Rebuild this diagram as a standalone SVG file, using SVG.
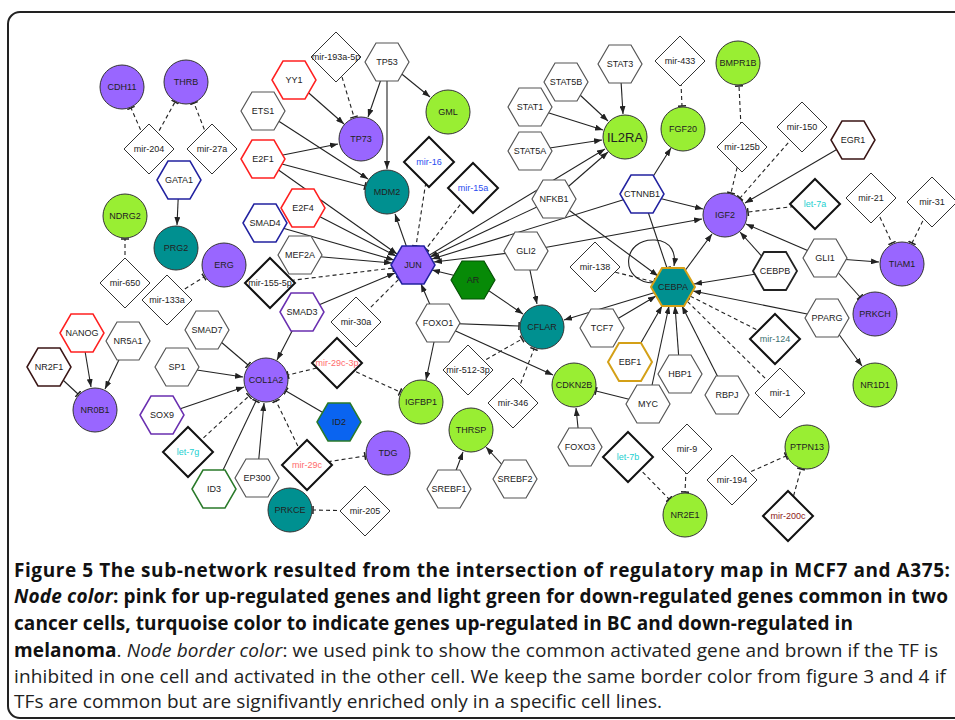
<svg xmlns="http://www.w3.org/2000/svg" xmlns:xlink="http://www.w3.org/1999/xlink" width="955" height="720" viewBox="0 0 955 720">
<style>
.c{stroke:#333;stroke-width:1}
.pu{fill:#9966ff}.gr{fill:#99ee33}.tl{fill:#009090}
.h{fill:#fff;stroke:#555;stroke-width:1.2}
.red{stroke:#ff2020;stroke-width:1.5}.blu{stroke:#2222a0;stroke-width:1.5}.pur{stroke:#6a2fb0;stroke-width:1.5}
.brn{stroke:#3a1515;stroke-width:1.5}.grn{stroke:#2a7a2a;stroke-width:1.5}.gold{stroke:#d4a017;stroke-width:2}.blk{stroke:#222;stroke-width:1.8}
.dm{fill:#fff;stroke:#333;stroke-width:1}
.db{fill:#fff;stroke:#111;stroke-width:2}
text{font-family:"Liberation Sans",Arial,sans-serif;font-size:9px;text-anchor:middle;fill:#222}
.tb{fill:#2a4cf0}.tc{fill:#22d0d0}.tp{fill:#ff6b6b}.tt{fill:#3a7070}.tr{fill:#8b2020}
.e{stroke:#222;stroke-width:1.1;fill:none}
.d{stroke:#222;stroke-width:1.1;stroke-dasharray:4 3;fill:none}
.a{marker-end:url(#arr)}
.t{marker-end:url(#tb)}
.cap{font-family:"Open Sans","Liberation Sans",sans-serif;font-size:19px;text-anchor:start;fill:#222}
.bd{font-weight:bold;fill:#111}
</style>
<defs>
<marker id="arr" viewBox="0 0 8 6" refX="8" refY="3" markerWidth="8" markerHeight="6" markerUnits="userSpaceOnUse" orient="auto"><path d="M0,0 L8,3 L0,6 z" fill="#222"/></marker>
<marker id="tb" viewBox="0 0 3 8" refX="2" refY="4" markerWidth="3" markerHeight="8" markerUnits="userSpaceOnUse" orient="auto"><path d="M2,0 V8" stroke="#222" stroke-width="1.5"/></marker>
<polygon id="hx" points="-22,0 -11,-19 11,-19 22,0 11,19 -11,19"/>
<polygon id="dmd" points="0,-25 25,0 0,25 -25,0"/>
</defs>
<rect x="8" y="12" width="980" height="706" rx="12" fill="none" stroke="#222" stroke-width="2"/>
<g id="edges">
<line x1="179" y1="180" x2="177" y2="225" class="e a"/>
<line x1="294" y1="80" x2="344" y2="124" class="e a"/>
<line x1="263" y1="111" x2="368" y2="179" class="e a"/>
<line x1="263" y1="159" x2="338" y2="144" class="e a"/>
<line x1="263" y1="159" x2="397" y2="254" class="e a"/>
<line x1="303" y1="208" x2="396" y2="256" class="e a"/>
<line x1="265" y1="223" x2="394" y2="260" class="e a"/>
<line x1="300" y1="255" x2="392" y2="263" class="e a"/>
<line x1="302" y1="312" x2="395" y2="273" class="e a"/>
<line x1="438" y1="323" x2="421" y2="284" class="e a"/>
<line x1="473" y1="280" x2="432" y2="270" class="e a"/>
<line x1="413" y1="265" x2="395" y2="214" class="e a"/>
<line x1="387" y1="62" x2="368" y2="117" class="e a"/>
<line x1="387" y1="62" x2="387" y2="169" class="e a"/>
<line x1="387" y1="62" x2="430" y2="97" class="e a"/>
<line x1="554" y1="199" x2="430" y2="257" class="e a"/>
<line x1="413" y1="265" x2="605" y2="149" class="e a"/>
<line x1="554" y1="199" x2="608" y2="152" class="e a"/>
<line x1="642" y1="194" x2="432" y2="259" class="e a"/>
<line x1="526" y1="251" x2="434" y2="262" class="e a"/>
<line x1="526" y1="251" x2="702" y2="219" class="e a"/>
<line x1="554" y1="199" x2="658" y2="276" class="e a"/>
<line x1="620" y1="64" x2="623" y2="114" class="e a"/>
<line x1="566" y1="82" x2="608" y2="121" class="e a"/>
<line x1="530" y1="107" x2="603" y2="130" class="e a"/>
<line x1="530" y1="151" x2="602" y2="140" class="e a"/>
<line x1="642" y1="194" x2="671" y2="148" class="e a"/>
<line x1="642" y1="194" x2="703" y2="209" class="e a"/>
<line x1="853" y1="140" x2="745" y2="203" class="e a"/>
<line x1="673" y1="287" x2="712" y2="234" class="e a"/>
<line x1="775" y1="271" x2="740" y2="232" class="e a"/>
<line x1="825" y1="258" x2="746" y2="224" class="e a"/>
<line x1="825" y1="258" x2="879" y2="262" class="e a"/>
<line x1="775" y1="271" x2="694" y2="284" class="e a"/>
<line x1="827" y1="318" x2="693" y2="291" class="e a"/>
<line x1="827" y1="318" x2="862" y2="366" class="e a"/>
<line x1="727" y1="395" x2="682" y2="306" class="e a"/>
<line x1="680" y1="374" x2="675" y2="306" class="e a"/>
<line x1="648" y1="404" x2="669" y2="306" class="e a"/>
<line x1="630" y1="362" x2="662" y2="306" class="e a"/>
<line x1="602" y1="328" x2="656" y2="296" class="e a"/>
<line x1="673" y1="287" x2="564" y2="320" class="e a"/>
<line x1="526" y1="251" x2="537" y2="304" class="e a"/>
<line x1="473" y1="280" x2="523" y2="314" class="e a"/>
<line x1="438" y1="323" x2="426" y2="380" class="e a"/>
<line x1="438" y1="323" x2="553" y2="375" class="e a"/>
<line x1="580" y1="447" x2="576" y2="408" class="e a"/>
<line x1="449" y1="489" x2="463" y2="452" class="e a"/>
<line x1="515" y1="479" x2="486" y2="447" class="e a"/>
<line x1="302" y1="312" x2="277" y2="360" class="e a"/>
<line x1="177" y1="367" x2="243" y2="377" class="e a"/>
<line x1="162" y1="415" x2="244" y2="387" class="e a"/>
<line x1="257" y1="478" x2="264" y2="403" class="e a"/>
<line x1="82" y1="333" x2="91" y2="387" class="e a"/>
<line x1="128" y1="341" x2="105" y2="389" class="e a"/>
<path d="M654,283 C618,282 622,238 655,240 C672,241 676,254 674,266" class="e a"/>
<line x1="263" y1="159" x2="365" y2="186" class="e t"/>
<line x1="642" y1="194" x2="667" y2="268" class="e t"/>
<line x1="825" y1="258" x2="860" y2="297" class="e t"/>
<line x1="438" y1="323" x2="519" y2="326" class="e t"/>
<line x1="648" y1="404" x2="596" y2="391" class="e t"/>
<line x1="339" y1="422" x2="286" y2="391" class="e t"/>
<line x1="207" y1="330" x2="248" y2="365" class="e t"/>
<line x1="214" y1="489" x2="256" y2="401" class="e t"/>
<line x1="49" y1="367" x2="78" y2="394" class="e t"/>
<line x1="149" y1="149" x2="131" y2="108" class="d t"/>
<line x1="149" y1="149" x2="175" y2="102" class="d t"/>
<line x1="212" y1="149" x2="194" y2="103" class="d t"/>
<line x1="125" y1="283" x2="125" y2="239" class="d t"/>
<line x1="167" y1="300" x2="204" y2="277" class="d t"/>
<line x1="270" y1="283" x2="393" y2="268" class="d t"/>
<line x1="356" y1="322" x2="399" y2="279" class="d t"/>
<line x1="429" y1="162" x2="416" y2="246" class="d t"/>
<line x1="473" y1="188" x2="426" y2="249" class="d t"/>
<line x1="336" y1="57" x2="354" y2="117" class="d t"/>
<line x1="680" y1="61" x2="682" y2="106" class="d t"/>
<line x1="742" y1="147" x2="739" y2="86" class="d t"/>
<line x1="742" y1="147" x2="731" y2="193" class="d t"/>
<line x1="802" y1="127" x2="740" y2="198" class="d t"/>
<line x1="815" y1="204" x2="748" y2="212" class="d t"/>
<line x1="871" y1="198" x2="892" y2="243" class="d t"/>
<line x1="932" y1="202" x2="912" y2="243" class="d t"/>
<line x1="775" y1="339" x2="690" y2="296" class="d t"/>
<line x1="780" y1="393" x2="687" y2="301" class="d t"/>
<line x1="595" y1="267" x2="654" y2="282" class="d t"/>
<line x1="468" y1="370" x2="522" y2="339" class="d t"/>
<line x1="513" y1="403" x2="534" y2="349" class="d t"/>
<line x1="687" y1="449" x2="685" y2="492" class="d t"/>
<line x1="628" y1="457" x2="669" y2="499" class="d t"/>
<line x1="732" y1="480" x2="786" y2="456" class="d t"/>
<line x1="788" y1="516" x2="801" y2="469" class="d t"/>
<line x1="365" y1="511" x2="313" y2="510" class="d t"/>
<line x1="307" y1="465" x2="365" y2="456" class="d t"/>
<line x1="307" y1="465" x2="276" y2="401" class="d t"/>
<line x1="337" y1="363" x2="288" y2="375" class="d t"/>
<line x1="337" y1="363" x2="400" y2="392" class="d t"/>
<line x1="188" y1="452" x2="249" y2="396" class="d t"/>
</g>
<!-- circles -->
<g id="CDH11"><circle cx="122" cy="87" r="22" class="c pu"/><text x="122" y="90">CDH11</text></g>
<g id="THRB"><circle cx="186" cy="82" r="22" class="c pu"/><text x="186" y="85">THRB</text></g>
<g id="NDRG2"><circle cx="125" cy="216" r="22" class="c gr"/><text x="125" y="219">NDRG2</text></g>
<g id="PRG2"><circle cx="176" cy="248" r="22" class="c tl"/><text x="176" y="251">PRG2</text></g>
<g id="ERG"><circle cx="224" cy="265" r="22" class="c pu"/><text x="224" y="268">ERG</text></g>
<g id="NR0B1"><circle cx="95" cy="410" r="22" class="c pu"/><text x="95" y="413">NR0B1</text></g>
<g id="COL1A2"><circle cx="266" cy="380" r="22" class="c pu"/><text x="266" y="383">COL1A2</text></g>
<g id="PRKCE"><circle cx="290" cy="510" r="22" class="c tl"/><text x="290" y="513">PRKCE</text></g>
<g id="TDG"><circle cx="388" cy="453" r="22" class="c pu"/><text x="388" y="456">TDG</text></g>
<g id="IGFBP1"><circle cx="421" cy="402" r="22" class="c gr"/><text x="421" y="405">IGFBP1</text></g>
<g id="THRSP"><circle cx="471" cy="430" r="22" class="c gr"/><text x="471" y="433">THRSP</text></g>
<g id="CFLAR"><circle cx="542" cy="327" r="22" class="c tl"/><text x="542" y="330">CFLAR</text></g>
<g id="CDKN2B"><circle cx="574" cy="385" r="22" class="c gr"/><text x="574" y="388">CDKN2B</text></g>
<g id="TP73"><circle cx="361" cy="139" r="22" class="c pu"/><text x="361" y="142">TP73</text></g>
<g id="MDM2"><circle cx="387" cy="192" r="22" class="c tl"/><text x="387" y="195">MDM2</text></g>
<g id="GML"><circle cx="448" cy="112" r="22" class="c gr"/><text x="448" y="115">GML</text></g>
<g id="IL2RA"><circle cx="625" cy="137" r="22" class="c gr"/><text x="625" y="142" style="font-size:13px">IL2RA</text></g>
<g id="FGF20"><circle cx="683" cy="129" r="22" class="c gr"/><text x="683" y="132">FGF20</text></g>
<g id="BMPR1B"><circle cx="738" cy="63" r="22" class="c gr"/><text x="738" y="66">BMPR1B</text></g>
<g id="IGF2"><circle cx="725" cy="215" r="22" class="c pu"/><text x="725" y="218">IGF2</text></g>
<g id="TIAM1"><circle cx="902" cy="264" r="22" class="c pu"/><text x="902" y="267">TIAM1</text></g>
<g id="PRKCH"><circle cx="875" cy="314" r="22" class="c pu"/><text x="875" y="317">PRKCH</text></g>
<g id="NR1D1"><circle cx="875" cy="385" r="22" class="c gr"/><text x="875" y="388">NR1D1</text></g>
<g id="PTPN13"><circle cx="807" cy="447" r="22" class="c gr"/><text x="807" y="450">PTPN13</text></g>
<g id="NR2E1"><circle cx="685" cy="515" r="22" class="c gr"/><text x="685" y="518">NR2E1</text></g>
<!-- hexagons -->
<g id="YY1"><use href="#hx" x="294" y="80" class="h red"/><text x="294" y="83">YY1</text></g>
<g id="ETS1"><use href="#hx" x="263" y="111" class="h"/><text x="263" y="114">ETS1</text></g>
<g id="E2F1"><use href="#hx" x="263" y="159" class="h red"/><text x="263" y="162">E2F1</text></g>
<g id="E2F4"><use href="#hx" x="303" y="208" class="h red"/><text x="303" y="211">E2F4</text></g>
<g id="SMAD4"><use href="#hx" x="265" y="223" class="h blu"/><text x="265" y="226">SMAD4</text></g>
<g id="MEF2A"><use href="#hx" x="300" y="255" class="h"/><text x="300" y="258">MEF2A</text></g>
<g id="GATA1"><use href="#hx" x="179" y="180" class="h blu"/><text x="179" y="183">GATA1</text></g>
<g id="TP53"><use href="#hx" x="387" y="62" class="h"/><text x="387" y="65">TP53</text></g>
<g id="STAT3"><use href="#hx" x="620" y="64" class="h"/><text x="620" y="67">STAT3</text></g>
<g id="STAT5B"><use href="#hx" x="566" y="82" class="h"/><text x="566" y="85">STAT5B</text></g>
<g id="STAT1"><use href="#hx" x="530" y="107" class="h"/><text x="530" y="110">STAT1</text></g>
<g id="STAT5A"><use href="#hx" x="530" y="151" class="h"/><text x="530" y="154">STAT5A</text></g>
<g id="NFKB1"><use href="#hx" x="554" y="199" class="h"/><text x="554" y="202">NFKB1</text></g>
<g id="CTNNB1"><use href="#hx" x="642" y="194" class="h blu"/><text x="642" y="197">CTNNB1</text></g>
<g id="EGR1"><use href="#hx" x="853" y="140" class="h brn"/><text x="853" y="143">EGR1</text></g>
<g id="JUN"><use href="#hx" x="413" y="265" class="h blu" style="fill:#9966ff"/><text x="413" y="268">JUN</text></g>
<g id="GLI2"><use href="#hx" x="526" y="251" class="h"/><text x="526" y="254">GLI2</text></g>
<g id="AR"><use href="#hx" x="473" y="280" class="h" style="fill:#078a07;stroke:#055005"/><text x="473" y="283">AR</text></g>
<g id="FOXO1"><use href="#hx" x="438" y="323" class="h"/><text x="438" y="326">FOXO1</text></g>
<g id="TCF7"><use href="#hx" x="602" y="328" class="h"/><text x="602" y="331">TCF7</text></g>
<g id="CEBPA"><use href="#hx" x="673" y="287" class="h gold" style="fill:#009090"/><text x="673" y="290">CEBPA</text></g>
<g id="CEBPB"><use href="#hx" x="775" y="271" class="h blk"/><text x="775" y="274">CEBPB</text></g>
<g id="GLI1"><use href="#hx" x="825" y="258" class="h"/><text x="825" y="261">GLI1</text></g>
<g id="PPARG"><use href="#hx" x="827" y="318" class="h"/><text x="827" y="321">PPARG</text></g>
<g id="EBF1"><use href="#hx" x="630" y="362" class="h gold"/><text x="630" y="365">EBF1</text></g>
<g id="HBP1"><use href="#hx" x="680" y="374" class="h"/><text x="680" y="377">HBP1</text></g>
<g id="RBPJ"><use href="#hx" x="727" y="395" class="h"/><text x="727" y="398">RBPJ</text></g>
<g id="MYC"><use href="#hx" x="648" y="404" class="h"/><text x="648" y="407">MYC</text></g>
<g id="FOXO3"><use href="#hx" x="580" y="447" class="h"/><text x="580" y="450">FOXO3</text></g>
<g id="SREBF1"><use href="#hx" x="449" y="489" class="h"/><text x="449" y="492">SREBF1</text></g>
<g id="SREBF2"><use href="#hx" x="515" y="479" class="h"/><text x="515" y="482">SREBF2</text></g>
<g id="SMAD3"><use href="#hx" x="302" y="312" class="h pur"/><text x="302" y="315">SMAD3</text></g>
<g id="SMAD7"><use href="#hx" x="207" y="330" class="h"/><text x="207" y="333">SMAD7</text></g>
<g id="SP1"><use href="#hx" x="177" y="367" class="h"/><text x="177" y="370">SP1</text></g>
<g id="SOX9"><use href="#hx" x="162" y="415" class="h pur"/><text x="162" y="418">SOX9</text></g>
<g id="ID3"><use href="#hx" x="214" y="489" class="h grn"/><text x="214" y="492">ID3</text></g>
<g id="EP300"><use href="#hx" x="257" y="478" class="h"/><text x="257" y="481">EP300</text></g>
<g id="ID2"><use href="#hx" x="339" y="422" class="h grn" style="fill:#0a64f0"/><text x="339" y="425">ID2</text></g>
<g id="NANOG"><use href="#hx" x="82" y="333" class="h red"/><text x="82" y="336">NANOG</text></g>
<g id="NR5A1"><use href="#hx" x="128" y="341" class="h"/><text x="128" y="344">NR5A1</text></g>
<g id="NR2F1"><use href="#hx" x="49" y="367" class="h brn"/><text x="49" y="370">NR2F1</text></g>
<!-- diamonds -->
<g id="mir-204"><use href="#dmd" x="149" y="149" class="dm"/><text x="149" y="152">mir-204</text></g>
<g id="mir-27a"><use href="#dmd" x="212" y="149" class="dm"/><text x="212" y="152">mir-27a</text></g>
<g id="mir-193a-5p"><use href="#dmd" x="336" y="57" class="dm"/><text x="336" y="60">mir-193a-5p</text></g>
<g id="mir-16"><use href="#dmd" x="429" y="162" class="db"/><text x="429" y="165" class="tb">mir-16</text></g>
<g id="mir-15a"><use href="#dmd" x="473" y="188" class="db"/><text x="473" y="191" class="tb">mir-15a</text></g>
<g id="mir-433"><use href="#dmd" x="680" y="61" class="dm"/><text x="680" y="64">mir-433</text></g>
<g id="mir-125b"><use href="#dmd" x="742" y="147" class="dm"/><text x="742" y="150">mir-125b</text></g>
<g id="mir-150"><use href="#dmd" x="802" y="127" class="dm"/><text x="802" y="130">mir-150</text></g>
<g id="let-7a"><use href="#dmd" x="815" y="204" class="db"/><text x="815" y="207" class="tc">let-7a</text></g>
<g id="mir-21"><use href="#dmd" x="871" y="198" class="dm"/><text x="871" y="201">mir-21</text></g>
<g id="mir-31"><use href="#dmd" x="932" y="202" class="dm"/><text x="932" y="205">mir-31</text></g>
<g id="mir-650"><use href="#dmd" x="125" y="283" class="dm"/><text x="125" y="286">mir-650</text></g>
<g id="mir-133a"><use href="#dmd" x="167" y="300" class="dm"/><text x="167" y="303">mir-133a</text></g>
<g id="mir-155-5p"><use href="#dmd" x="270" y="283" class="db"/><text x="270" y="286">mir-155-5p</text></g>
<g id="mir-30a"><use href="#dmd" x="356" y="322" class="dm"/><text x="356" y="325">mir-30a</text></g>
<g id="mir-29c-3p"><use href="#dmd" x="337" y="363" class="db"/><text x="337" y="366" class="tp">mir-29c-3p</text></g>
<g id="mir-512-3p"><use href="#dmd" x="468" y="370" class="dm"/><text x="468" y="373">mir-512-3p</text></g>
<g id="mir-346"><use href="#dmd" x="513" y="403" class="dm"/><text x="513" y="406">mir-346</text></g>
<g id="mir-138"><use href="#dmd" x="595" y="267" class="dm"/><text x="595" y="270">mir-138</text></g>
<g id="mir-124"><use href="#dmd" x="775" y="339" class="db"/><text x="775" y="342" class="tt">mir-124</text></g>
<g id="mir-1"><use href="#dmd" x="780" y="393" class="dm"/><text x="780" y="396">mir-1</text></g>
<g id="mir-29c"><use href="#dmd" x="307" y="465" class="db"/><text x="307" y="468" class="tp">mir-29c</text></g>
<g id="let-7g"><use href="#dmd" x="188" y="452" class="db"/><text x="188" y="455" class="tc">let-7g</text></g>
<g id="mir-205"><use href="#dmd" x="365" y="511" class="dm"/><text x="365" y="514">mir-205</text></g>
<g id="let-7b"><use href="#dmd" x="628" y="457" class="db"/><text x="628" y="460" class="tc">let-7b</text></g>
<g id="mir-9"><use href="#dmd" x="687" y="449" class="dm"/><text x="687" y="452">mir-9</text></g>
<g id="mir-194"><use href="#dmd" x="732" y="480" class="dm"/><text x="732" y="483">mir-194</text></g>
<g id="mir-200c"><use href="#dmd" x="788" y="516" class="db"/><text x="788" y="519" class="tr">mir-200c</text></g>
<g id="caption">
<text class="cap bd" x="14" y="577" textLength="936">Figure 5 The sub-network resulted from the intersection of regulatory map in MCF7 and A375:</text>
<text class="cap bd" x="14" y="603" textLength="934"><tspan font-style="italic">Node color</tspan>: pink for up-regulated genes and light green for down-regulated genes common in two</text>
<text class="cap bd" x="14" y="630" textLength="839">cancer cells, turquoise color to indicate genes up-regulated in BC and down-regulated in</text>
<text class="cap" x="14" y="657" textLength="924"><tspan font-weight="bold" fill="#111">melanoma</tspan>. <tspan font-style="italic">Node border color</tspan>: we used pink to show the common activated gene and brown if the TF is</text>
<text class="cap" x="14" y="683" textLength="932">inhibited in one cell and activated in the other cell. We keep the same border color from figure 3 and 4 if</text>
<text class="cap" x="14" y="708" textLength="648">TFs are common but are signifivantly enriched only in a specific cell lines.</text>
</g>
</svg>
